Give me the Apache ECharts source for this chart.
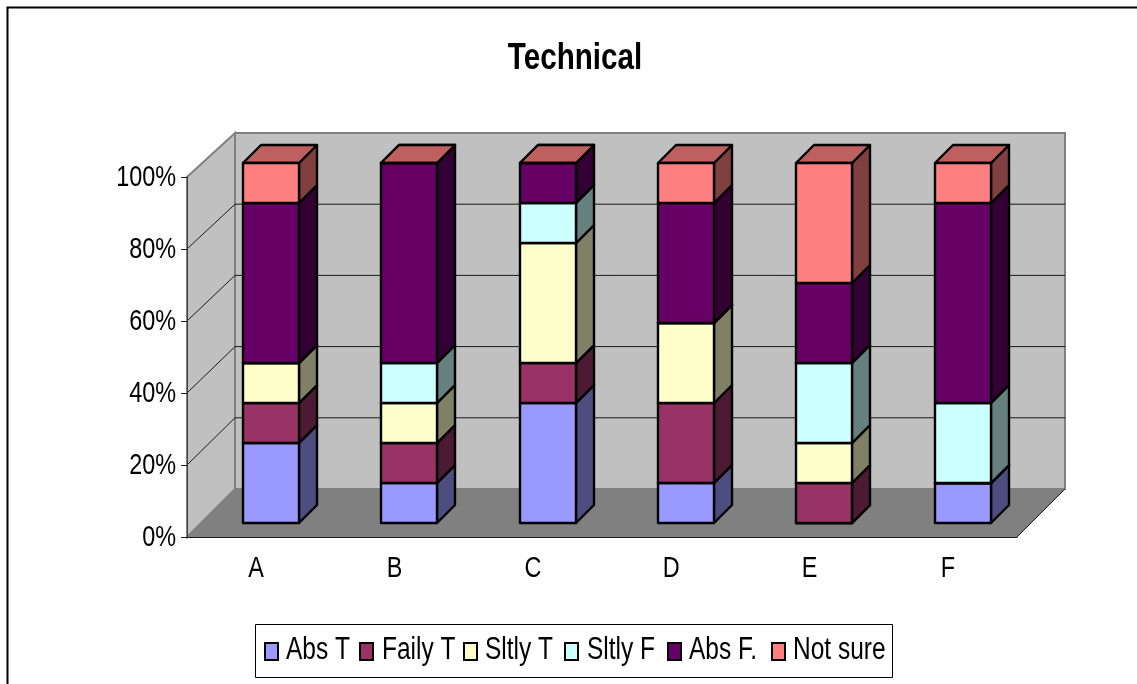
<!DOCTYPE html>
<html>
<head>
<meta charset="utf-8">
<title>Technical</title>
<script src="https://cdn.jsdelivr.net/npm/echarts@6/dist/echarts.min.js"></script>
<style>
html,body{margin:0;padding:0;background:#fff;}
#chart{width:1137px;height:684px;}
</style>
</head>
<body>
<div id="chart"></div>
<script>
var categories = ['A','B','C','D','E','F'];
var yTicks = [0,20,40,60,80,100];

// percent of answers per category
var absT     = [22.22,11.11,33.33,11.11,0,11.11];
var failyT   = [11.11,11.11,11.11,22.22,11.11,0];
var sltlyT   = [11.11,11.11,33.33,22.22,11.11,0];
var sltlyF   = [0,11.11,11.11,0,22.22,22.22];
var absF     = [44.45,55.56,11.12,33.33,22.23,55.56];
var notSure  = [11.11,0,0,11.12,33.33,11.11];

var seriesNames = ['Abs T','Faily T','Sltly T','Sltly F','Abs F.','Not sure'];
var seriesValues = [absT,failyT,sltlyT,sltlyF,absF,notSure];

var frontColors = ['#9999FF','#993366','#FFFFCC','#CCFFFF','#660066','#FF8080'];
var sideColors  = ['#4D4D80','#4D1A33','#808066','#668080','#330033','#804040'];
var topColors   = ['#7373BF','#73264D','#BFBF99','#99BFBF','#4D004D','#BF6060'];

var fontName = '"Liberation Sans",Arial,sans-serif';
var narrow = 0.78;    //the labels are squeezed sideways, no narrow font is installed
var depthX = 48;      //floor depth
var barDepth = 18;
var barShift = 14.8;  //bars sit a bit behind the front edge
var barRatio = 0.405;

function wallOffset(v){
	return -48 + 4 * v / 100;
}

function renderWalls(params, api){
	var v = api.value(0);
	var sys = params.coordSys;
	var left = sys.x, right = sys.x + sys.width;
	var y = api.coord([0, v])[1];
	var backY = y + wallOffset(v);
	var lineStyle = {stroke:'#1a1a1a', lineWidth:1, fill:null};
	if(v == 0){
		var top = sys.y, bottom = sys.y + sys.height;
		var backTop = top + wallOffset(100), backBottom = bottom + wallOffset(0);
		return {type:'group', children:[
			{type:'polygon', shape:{points:[[left+depthX,backTop],[right+depthX,backTop],[right+depthX,backBottom],[left+depthX,backBottom]]},
				style:{fill:'#C0C0C0', stroke:'#808080', lineWidth:2}},
			{type:'polygon', shape:{points:[[left,top],[left+depthX,backTop],[left+depthX,backBottom],[left,bottom]]},
				style:{fill:'#C0C0C0', stroke:'#808080', lineWidth:2}},
			{type:'polygon', shape:{points:[[left,bottom],[left+depthX,backBottom],[right+depthX,backBottom],[right,bottom]]},
				style:{fill:'#808080'}},
			{type:'polyline', shape:{points:[[right,bottom],[right+depthX,backBottom]]}, style:lineStyle}
		]};
	}
	if(v == 100){
		return null;
	}
	return {type:'polyline', shape:{points:[[left,y],[left+depthX,backY],[right+depthX,backY]]}, style:lineStyle};
}

function makeRenderBar(seriesIndex){
	return function(params, api){
		var cat = api.value(0);
		var p0 = api.coord([cat, api.value(1)]);
		var p1 = api.coord([cat, api.value(2)]);
		var w = Math.round(api.size([1,0])[0] * barRatio);
		var x0 = Math.round(p0[0] + barShift - w / 2), x1 = x0 + w;
		var yb = Math.round(p0[1] - 14), yt = Math.round(p1[1] - 14);
		var d = barDepth;
		var edge = {stroke:'#000', lineWidth:2.4, lineJoin:'round'};
		return {type:'group', children:[
			{type:'polygon', shape:{points:[[x1,yb],[x1+d,yb-d],[x1+d,yt-d],[x1,yt]]},
				style:Object.assign({fill:sideColors[seriesIndex]}, edge)},
			{type:'polygon', shape:{points:[[x0,yt],[x1,yt],[x1+d,yt-d],[x0+d,yt-d]]},
				style:Object.assign({fill:topColors[seriesIndex]}, edge)},
			{type:'polygon', shape:{points:[[x0,yb],[x1,yb],[x1,yt],[x0,yt]]},
				style:Object.assign({fill:frontColors[seriesIndex]}, edge)}
		]};
	};
}

//echarts axis labels can not be squeezed, so they are drawn here at the axis positions
function renderYLabel(params, api){
	var v = api.value(0);
	var p = api.coord([0, v]);
	return {type:'text', x:params.coordSys.x - 11, y:p[1] + 1, scaleX:narrow,
		style:{text:v + '%', font:'30px ' + fontName, fill:'#000', textAlign:'right', textVerticalAlign:'middle'}};
}

function renderXLabel(params, api){
	var i = api.value(0);
	var p = api.coord([i, 0]);
	return {type:'text', x:p[0], y:p[1] + 32, scaleX:narrow,
		style:{text:categories[i], font:'30px ' + fontName, fill:'#000', textAlign:'center', textVerticalAlign:'middle'}};
}

var seriesList = [{
	type:'custom',
	silent:true,
	z:1,
	renderItem:renderWalls,
	encode:{y:0},
	data:yTicks.map(function(t){ return [t]; })
},{
	type:'custom',
	silent:true,
	z:6,
	renderItem:renderYLabel,
	encode:{y:0},
	data:yTicks.map(function(t){ return [t]; })
},{
	type:'custom',
	silent:true,
	z:6,
	renderItem:renderXLabel,
	encode:{x:0},
	data:categories.map(function(c, i){ return [i]; })
}];

var running = categories.map(function(){ return 0; });
seriesNames.forEach(function(name, s){
	var rows = seriesValues[s].map(function(value, i){
		var row = [i, running[i], running[i] + value];
		running[i] += value;
		return row;
	});
	seriesList.push({
		type:'custom',
		name:name,
		z:3,
		renderItem:makeRenderBar(s),
		encode:{x:0, y:[1,2]},
		itemStyle:{color:frontColors[s]},
		data:rows
	});
});

//legend by hand for the same reason as the axis labels
var legendSwatchX = [265,360,464,565,668,772];
var legendTextX = [286,382,485,587,689,793];
var legendItems = [{
	type:'rect', silent:true, shape:{x:255.5, y:624.5, width:637, height:53},
	style:{fill:'#fff', stroke:'#000', lineWidth:1}
}];
seriesNames.forEach(function(name, s){
	legendItems.push({
		type:'rect', silent:true, shape:{x:legendSwatchX[s], y:643, width:13, height:17},
		style:{fill:frontColors[s], stroke:'#000', lineWidth:2}
	});
	legendItems.push({
		type:'text', silent:true, x:legendTextX[s], y:650, scaleX:0.79,
		style:{text:name, font:'31px ' + fontName, fill:'#000', textAlign:'left', textVerticalAlign:'middle'}
	});
});

var myChart = echarts.init(document.getElementById('chart'));
myChart.setOption({
	animation:false,
	backgroundColor:'#fff',
	grid:{left:187, right:120, top:177, bottom:147, containLabel:false},
	xAxis:{
		type:'category',
		data:categories,
		z:5,
		axisLine:{lineStyle:{color:'#1a1a1a', width:1}},
		axisTick:{length:7, lineStyle:{color:'#1a1a1a'}},
		axisLabel:{show:false}
	},
	yAxis:{
		type:'value',
		min:0,
		max:100,
		interval:20,
		z:5,
		splitLine:{show:false},
		axisLine:{show:true, lineStyle:{color:'#404040', width:1}},
		axisTick:{show:true, length:6, lineStyle:{color:'#1a1a1a'}},
		axisLabel:{show:false}
	},
	graphic:[
		{type:'polyline', silent:true, shape:{points:[[7.5,684],[7.5,7.5],[1137,7.5]]}, style:{stroke:'#000', lineWidth:2, fill:null}},
		{type:'text', silent:true, x:575, y:59, scaleX:0.8,
			style:{text:'Technical', font:'bold 37px ' + fontName, fill:'#000', textAlign:'center', textVerticalAlign:'middle'}}
	].concat(legendItems),
	series:seriesList
});
</script>
</body>
</html>
